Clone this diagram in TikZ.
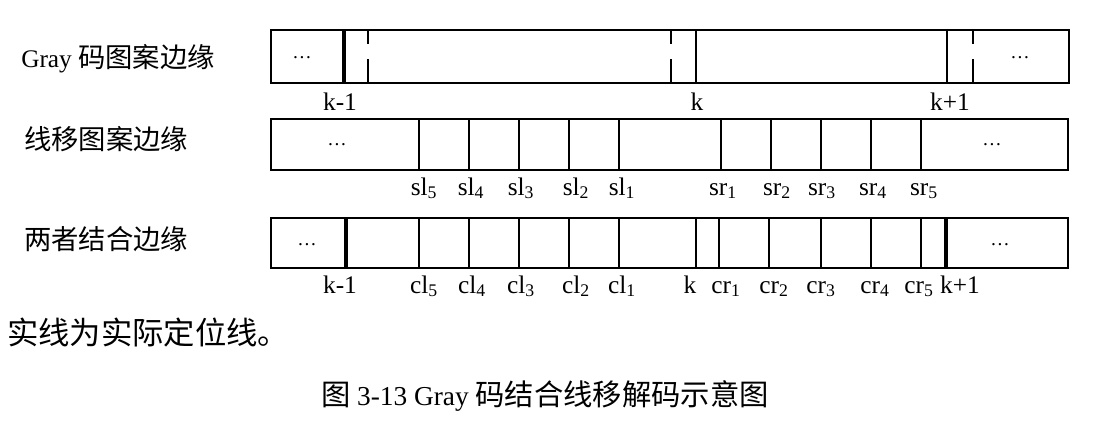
\documentclass[tikz,border=0pt]{standalone}
\usepackage{fontspec}
\setmainfont{Liberation Serif}
\newfontfamily\cjk{Noto Sans CJK SC}
\usepackage{tikz}
\newcommand{\zh}[2][20.5]{{\cjk\fontsize{#1}{#1}\selectfont #2}}
\tikzset{
  edge line/.style={line width=0.8pt},
  locate line/.style={line width=1.5pt},
  thick locate/.style={line width=2.3pt},
  shift line/.style={line width=1.4pt, dash pattern=on 9.75pt off 11.25pt on 40pt off 1pt},
  lab/.style={anchor=base, inner sep=0pt, font=\fontsize{19}{19}\selectfont},
  dots/.style={anchor=base, inner sep=0pt, font=\fontsize{14.5}{14.5}\selectfont},
  rowname/.style={anchor=base west, inner sep=0pt, font=\fontsize{19}{19}\selectfont}
}

\begin{document}
\begin{tikzpicture}[x=0.75pt,y=-0.75pt]
\useasboundingbox (0,0) rectangle (1093,426);

%0
\node[rowname] (gray) at (21,67) {Gray \zh{码图案边缘}};
\draw[edge line] (271,30) rectangle (1069,83);
\draw[thick locate] (344,30) -- (344,83);
\draw[locate line] (696,30) -- (696,83);
\draw[locate line] (947,30) -- (947,83);
\draw[shift line] (368,31) -- (368,83);
\draw[shift line] (671,31) -- (671,83);
\draw[shift line] (973,31) -- (973,83);
\node[dots] (gl) at (302,58) {…};
\node[dots] (gr) at (1020,58) {…};
\node[lab] (g-km1) at (340,110) {k-1};
\node[lab] (g-k) at (697,110) {k};
\node[lab] (g-kp1) at (950,110) {k+1};

%1
\node[rowname] (shift) at (24,149) {\zh{线移图案边缘}};
\draw[edge line] (271,119) rectangle (1068,170);
\foreach \x in {419,469,519,569,619,721,771,821,871,921}
  \draw[edge line] (\x,119) -- (\x,170);
\node[dots] (sl) at (337,145) {…};
\node[dots] (sr) at (992,145) {…};
\foreach \x/\i in {424/5,471/4,521/3,576/2,622/1}
  \node[lab] (sl\i) at (\x,195) {sl\textsubscript{\i}};
\foreach \x/\i in {723/1,777/2,822/3,873/4,924/5}
  \node[lab] (sr\i) at (\x,195) {sr\textsubscript{\i}};

%2
\node[rowname] (both) at (24,249) {\zh{两者结合边缘}};
\draw[edge line] (271,218) rectangle (1068,268);
\foreach \x in {419,469,519,569,619,719,769,821,871,921}
  \draw[edge line] (\x,218) -- (\x,268);
\draw[thick locate] (346,218) -- (346,268);
\draw[locate line] (696,218) -- (696,268);
\draw[thick locate] (946,218) -- (946,268);
\node[dots] (bl) at (307,245) {…};
\node[dots] (br) at (1000,245) {…};
\node[lab] (b-km1) at (340,293) {k-1};
\foreach \x/\i in {424/5,472/4,521/3,576/2,622/1}
  \node[lab] (cl\i) at (\x,293) {cl\textsubscript{\i}};
\node[lab] (b-k) at (690,293) {k};
\foreach \x/\i in {726/1,774/2,821/3,875/4,919/5}
  \node[lab] (cr\i) at (\x,293) {cr\textsubscript{\i}};
\node[lab] (b-kp1) at (960,293) {k+1};

%3
\node[rowname] (note) at (7,344) {\zh[23.5]{实线为实际定位线。}};
\node[anchor=base, inner sep=0pt, font=\fontsize{20.5}{20.5}\selectfont] (cap) at (545,405)
  {\zh[22]{图} 3-13 Gray \zh[22]{码结合线移解码示意图}};

\end{tikzpicture}
\end{document}
